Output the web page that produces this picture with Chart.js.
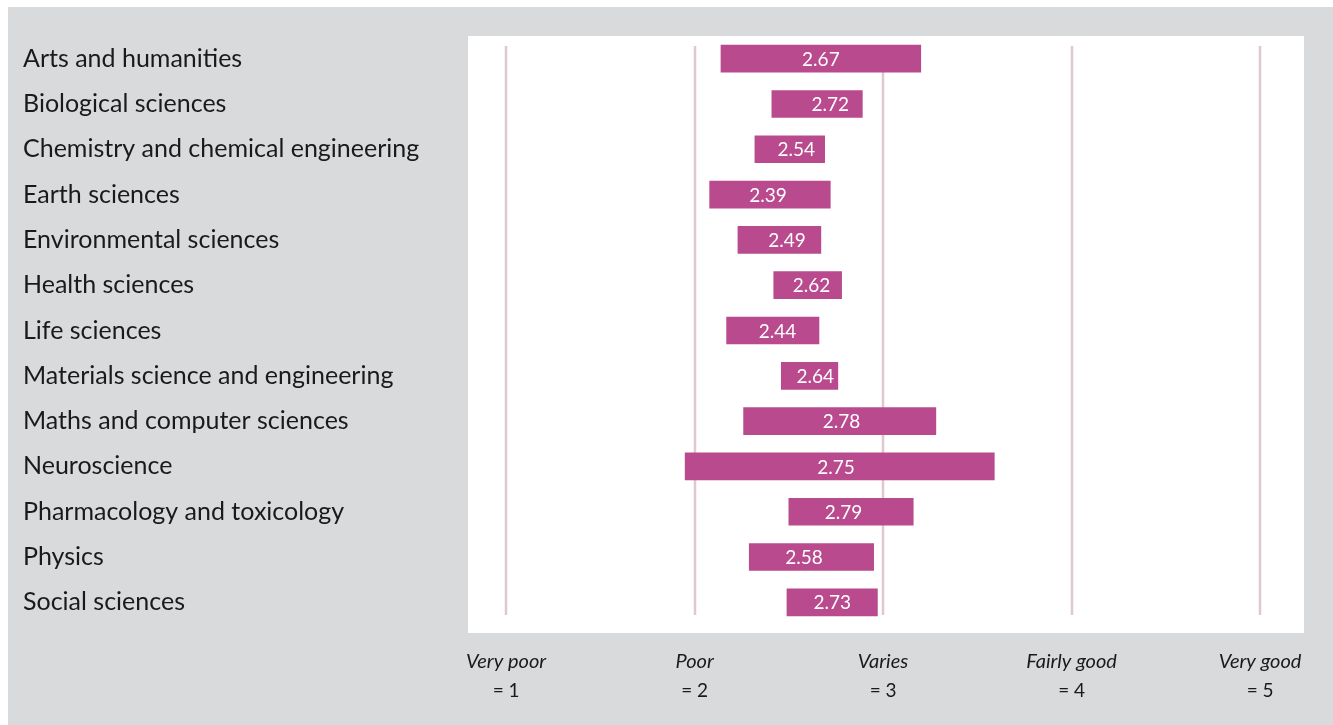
<!DOCTYPE html>
<html>
<head>
<meta charset="utf-8">
<script src="https://cdn.jsdelivr.net/npm/chart.js@4.4.1/dist/chart.umd.min.js"></script>
<style>
  html, body { margin: 0; padding: 0; background: #fff; }
</style>
</head>
<body>
<canvas id="chart-rangos" width="1333" height="725"></canvas>
<script>
// ==================== DATOS ====================

const categories = [
    'Arts and humanities',
    'Biological sciences',
    'Chemistry and chemical engineering',
    'Earth sciences',
    'Environmental sciences',
    'Health sciences',
    'Life sciences',
    'Materials science and engineering',
    'Maths and computer sciences',
    'Neuroscience',
    'Pharmacology and toxicology',
    'Physics',
    'Social sciences'
];
const lowValues  = [2.14, 2.41, 2.32, 2.08, 2.23, 2.42, 2.17, 2.46, 2.26, 1.95, 2.50, 2.29, 2.49];
const highValues = [3.20, 2.89, 2.69, 2.72, 2.67, 2.78, 2.66, 2.76, 3.28, 3.59, 3.16, 2.95, 2.97];
const meanValues = [2.67, 2.72, 2.54, 2.39, 2.49, 2.62, 2.44, 2.64, 2.78, 2.75, 2.79, 2.58, 2.73];

const scaleValues  = [1, 2, 3, 4, 5];
const scaleNames   = ['Very poor', 'Poor', 'Varies', 'Fairly good', 'Very good'];
const scaleNumbers = ['= 1', '= 2', '= 3', '= 4', '= 5'];

const FONT = 'Lato';

// ── Fondo gris + panel blanco ──────────────────────────────

const fondoPlugin = {
    id: 'fondo',
    beforeDraw(chart) {
        const { ctx, chartArea } = chart;
        ctx.save();
        ctx.fillStyle = '#ffffff';
        ctx.fillRect(0, 0, chart.width, chart.height);
        ctx.fillStyle = '#d9dadc';
        ctx.fillRect(8, 7, chart.width - 8, chart.height - 7);
        ctx.fillStyle = '#ffffff';
        ctx.fillRect(chartArea.left, chartArea.top, chartArea.right - chartArea.left, chartArea.bottom - chartArea.top + 8);
        ctx.restore();
    },
    beforeDatasetsDraw(chart) {
        // líneas verticales de referencia (1..5)
        const { ctx, chartArea, scales } = chart;
        ctx.save();
        ctx.strokeStyle = '#e0c8d1';
        ctx.lineWidth = 2.5;
        scaleValues.forEach(v => {
            const x = Math.round(scales.x.getPixelForValue(v));
            ctx.beginPath();
            ctx.moveTo(x, chartArea.top + 10);
            ctx.lineTo(x, chartArea.bottom - 10);
            ctx.stroke();
        });
        ctx.restore();
    },
    afterDatasetsDraw(chart) {
        // etiqueta con el promedio, centrada en su valor
        const { ctx, scales } = chart;
        const meta = chart.getDatasetMeta(0);
        ctx.save();
        ctx.fillStyle = '#ffffff';
        ctx.font = `19px ${FONT}`;
        ctx.textAlign = 'center';
        ctx.textBaseline = 'middle';
        meta.data.forEach((bar, i) => {
            ctx.fillText(meanValues[i].toFixed(2), scales.x.getPixelForValue(meanValues[i]), bar.y + 1);
        });
        ctx.restore();
    }
};

new Chart(document.getElementById('chart-rangos'), {
    type: 'bar',
    data: {
        labels: categories,
        datasets: [{
            data: categories.map((c, i) => [lowValues[i], highValues[i]]),
            backgroundColor: '#b94a8e',
            borderWidth: 0,
            barThickness: 27
        }]
    },
    options: {
        indexAxis: 'y',
        responsive: false,
        animation: false,
        layout: { padding: { left: 23, right: 29, top: 36, bottom: 20 } },
        plugins: { legend: { display: false }, tooltip: { enabled: false } },
        scales: {
            y: {
                position: 'left',
                grid: { display: false },
                border: { display: false },
                afterFit: s => { s.width = 445; },
                ticks: {
                    crossAlign: 'far',
                    color: '#1a1a1a',
                    font: { family: FONT, size: 25 }
                }
            },
            x: {
                type: 'linear',
                position: 'bottom',
                weight: 1,
                min: 0.798,
                max: 5.233,
                grid: { display: false },
                border: { display: false },
                afterBuildTicks: s => { s.ticks = scaleValues.map(v => ({ value: v })); },
                afterFit: s => { s.height = 50; },
                ticks: {
                    padding: 17,
                    color: '#1a1a1a',
                    font: { family: FONT, size: 20, style: 'italic' },
                    callback: (v, i) => scaleNames[i]
                }
            },
            x2: {
                type: 'linear',
                position: 'bottom',
                weight: 2,
                min: 0.798,
                max: 5.233,
                grid: { display: false },
                border: { display: false },
                afterBuildTicks: s => { s.ticks = scaleValues.map(v => ({ value: v })); },
                afterFit: s => { s.height = 30; },
                ticks: {
                    padding: -4,
                    color: '#1a1a1a',
                    font: { family: FONT, size: 19 },
                    callback: (v, i) => scaleNumbers[i]
                }
            }
        }
    },
    plugins: [fondoPlugin]
});
</script>
</body>
</html>
